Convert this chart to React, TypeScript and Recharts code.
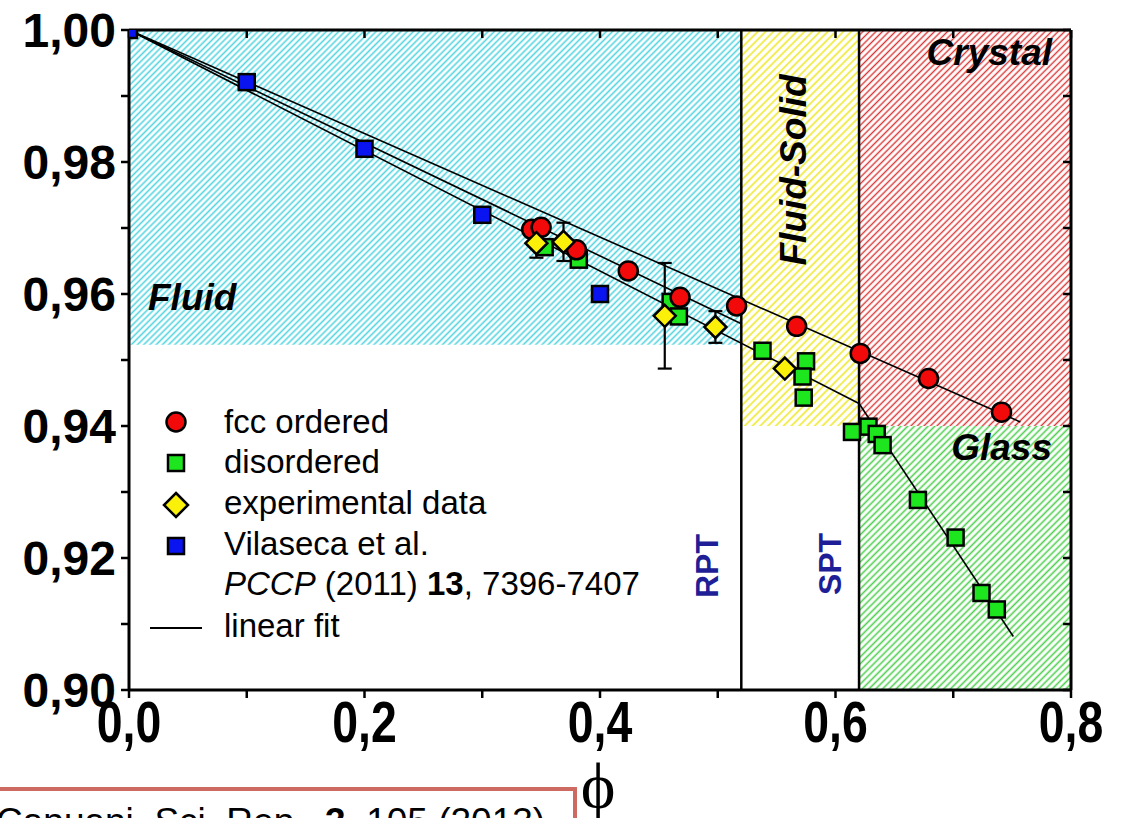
import React from 'react';
import {
  ScatterChart,
  Scatter,
  XAxis,
  YAxis,
  ReferenceArea,
  ReferenceLine,
  ErrorBar,
} from 'recharts';

// fcc ordered packing results
const fccOrdered = [
  { x: 0.342, y: 0.9698 },
  { x: 0.350, y: 0.9701 },
  { x: 0.380, y: 0.9667 },
  { x: 0.424, y: 0.9635 },
  { x: 0.468, y: 0.9595 },
  { x: 0.516, y: 0.9582 },
  { x: 0.567, y: 0.9551 },
  { x: 0.621, y: 0.9510 },
  { x: 0.679, y: 0.9472 },
  { x: 0.741, y: 0.9421 },
];

// disordered packing results
const disordered = [
  { x: 0.353, y: 0.9671 },
  { x: 0.382, y: 0.9652 },
  { x: 0.460, y: 0.9588 },
  { x: 0.467, y: 0.9566 },
  { x: 0.538, y: 0.9514 },
  { x: 0.575, y: 0.9498 },
  { x: 0.572, y: 0.9475 },
  { x: 0.573, y: 0.9443 },
  { x: 0.614, y: 0.9391 },
  { x: 0.628, y: 0.9399 },
  { x: 0.635, y: 0.9388 },
  { x: 0.640, y: 0.9371 },
  { x: 0.670, y: 0.9288 },
  { x: 0.702, y: 0.9231 },
  { x: 0.724, y: 0.9147 },
  { x: 0.737, y: 0.9122 },
];

// experimental data with symmetric error
const experimental = [
  { x: 0.346, y: 0.9677, err: 0.0022 },
  { x: 0.369, y: 0.9679, err: 0.0029 },
  { x: 0.455, y: 0.9567, err: 0.008 },
  { x: 0.498, y: 0.955, err: 0.0024 },
  { x: 0.557, y: 0.9487, err: 0 },
];

// Vilaseca et al., PCCP (2011)
const vilaseca = [
  { x: 0.0, y: 1.0 },
  { x: 0.1, y: 0.9921 },
  { x: 0.2, y: 0.982 },
  { x: 0.3, y: 0.972 },
  { x: 0.4, y: 0.96 },
];

// linear fits (end points)
const fccFit = [{ x: 0, y: 1.0 }, { x: 0.757, y: 0.9406 }];
const expFit = [{ x: 0, y: 1.0 }, { x: 0.52, y: 0.9555 }];
const disorderedFit = [{ x: 0, y: 1.0 }, { x: 0.62, y: 0.9434 }];
const glassFit = [{ x: 0.62, y: 0.9434 }, { x: 0.751, y: 0.9081 }];

// phase boundaries
const rptPhi = 0.52;
const sptPhi = 0.62;
const phases = [
  { name: 'Fluid', x1: 0, x2: 0.52, y1: 0.9523, y2: 1.0, fill: 'url(#hatchCyan)' },
  { name: 'Fluid-Solid', x1: 0.52, x2: 0.62, y1: 0.94, y2: 1.0, fill: 'url(#hatchYellow)' },
  { name: 'Crystal', x1: 0.62, x2: 0.8, y1: 0.94, y2: 1.0, fill: 'url(#hatchRed)' },
  { name: 'Glass', x1: 0.62, x2: 0.8, y1: 0.9, y2: 0.94, fill: 'url(#hatchGreen)' },
];

const xTicks = [0, 0.1, 0.2, 0.3, 0.4, 0.5, 0.6, 0.7, 0.8];
const yTicks = [0.9, 0.91, 0.92, 0.93, 0.94, 0.95, 0.96, 0.97, 0.98, 0.99, 1.0];

const FONT = '"Liberation Sans", Arial, Helvetica, sans-serif';

// bottom labels are tall and condensed, so squeeze them horizontally
const XTick = (props: any) => {
  const { x, payload } = props;
  const v = payload.value as number;
  if (Math.round(v * 10) % 2 !== 0) return <g />;
  return (
    <text
      transform={`translate(${x},742) scale(0.8,1)`}
      textAnchor="middle"
      fontFamily={FONT}
      fontWeight="bold"
      fontSize={58}
      fill="#000"
    >
      {v.toFixed(1).replace('.', ',')}
    </text>
  );
};

const YTick = (props: any) => {
  const { x, y, payload } = props;
  const v = payload.value as number;
  if (Math.round(v * 100) % 2 !== 0) return <g />;
  return (
    <text x={x - 3} y={y + 17} textAnchor="end" fontFamily={FONT} fontWeight="bold" fontSize={48} fill="#000">
      {v.toFixed(2).replace('.', ',')}
    </text>
  );
};

const Empty = () => <g />;

const RedCircle = (p: any) => (
  <circle cx={p.cx} cy={p.cy} r={9.5} fill="#f20a0a" stroke="#000" strokeWidth={2.5} />
);
const GreenSquare = (p: any) => (
  <rect x={p.cx - 8} y={p.cy - 8} width={16} height={16} fill="#1ee61e" stroke="#000" strokeWidth={2.5} />
);
const BlueSquare = (p: any) => (
  <rect x={p.cx - 8} y={p.cy - 8} width={16} height={16} fill="#0a14f0" stroke="#000" strokeWidth={2.5} />
);
const YellowDiamond = (p: any) => (
  <polygon
    points={`${p.cx},${p.cy - 11} ${p.cx + 11},${p.cy} ${p.cx},${p.cy + 11} ${p.cx - 11},${p.cy}`}
    fill="#fbf00a"
    stroke="#000"
    strokeWidth={2.5}
  />
);

const axisLine = { stroke: '#000', strokeWidth: 3 };
const tickLine = { stroke: '#000', strokeWidth: 2.5 };
const fitStyle = { stroke: '#000', strokeWidth: 1.6 };

const hatch = (id: string, color: string, size: number, width: number) => (
  <pattern id={id} patternUnits="userSpaceOnUse" width={size} height={size} patternTransform="rotate(45)">
    <line x1={size / 2} y1={0} x2={size / 2} y2={size} stroke={color} strokeWidth={width} />
  </pattern>
);

const Annotations = () => (
  <svg
    width={1122}
    height={818}
    style={{ position: 'absolute', left: 0, top: 0, pointerEvents: 'none' }}
    fontFamily={FONT}
  >
    {/* phase names */}
    <g fontWeight="bold" fontStyle="italic" fontSize={37} fill="#000">
      <text x={148} y={310}>Fluid</text>
      <text x={1052} y={65} textAnchor="end">Crystal</text>
      <text x={1052} y={460} textAnchor="end">Glass</text>
      <text transform="translate(806,170) rotate(-90)" textAnchor="middle">Fluid-Solid</text>
    </g>
    <g fontWeight="bold" fontSize={32} fill="#1e1e96">
      <text transform="translate(718,566) rotate(-90)" textAnchor="middle">RPT</text>
      <text transform="translate(841,564) rotate(-90)" textAnchor="middle">SPT</text>
    </g>

    {/* legend */}
    <g fontSize={33} fill="#000">
      <circle cx={176} cy={422} r={9.5} fill="#f20a0a" stroke="#000" strokeWidth={2.5} />
      <text x={224} y={433}>fcc ordered</text>
      <rect x={168} y={455} width={16} height={16} fill="#1ee61e" stroke="#000" strokeWidth={2.5} />
      <text x={224} y={473}>disordered</text>
      <polygon points="176,493 188,505 176,517 164,505" fill="#fbf00a" stroke="#000" strokeWidth={2.5} />
      <text x={224} y={514}>experimental data</text>
      <rect x={168} y={538} width={16} height={16} fill="#0a14f0" stroke="#000" strokeWidth={2.5} />
      <text x={224} y={555}>Vilaseca et al.</text>
      <text x={224} y={595}>
        <tspan fontStyle="italic">PCCP</tspan>
        <tspan> (2011) </tspan>
        <tspan fontWeight="bold">13</tspan>
        <tspan>, 7396-7407</tspan>
      </text>
      <line x1={150} y1={628} x2={202} y2={628} stroke="#000" strokeWidth={2} />
      <text x={224} y={637}>linear fit</text>
    </g>

    {/* axis title */}
    <text x={598} y={808} textAnchor="middle" fontFamily='"Liberation Serif", "Times New Roman", serif' fontSize={66} fill="#000">
      ϕ
    </text>

    {/* citation box */}
    <rect x={-20} y={789} width={595} height={80} fill="#fff" stroke="#cd6b63" strokeWidth={4} />
    <text x={-4} y={834} fontSize={37} fill="#000">
      Capuani, Sci. Rep., <tspan fontWeight="bold">3</tspan>, 105 (2013)
    </text>
  </svg>
);

export default function App() {
  return (
    <div style={{ position: 'absolute', left: 0, top: 0, width: 1122, height: 818, background: '#fff', overflow: 'hidden' }}>
      <ScatterChart width={1122} height={818} margin={{ top: 30, right: 51, bottom: 0, left: 0 }}>
        <defs>
          {hatch('hatchCyan', '#52d4e0', 4.4, 1.6)}
          {hatch('hatchYellow', '#f2ec55', 5.5, 2.0)}
          {hatch('hatchRed', '#dc3434', 4.6, 1.4)}
          {hatch('hatchGreen', '#4ecf4e', 4.8, 1.6)}
        </defs>

        {phases.map((p) => (
          <ReferenceArea key={p.name} x1={p.x1} x2={p.x2} y1={p.y1} y2={p.y2} fill={p.fill} fillOpacity={1} stroke="none" />
        ))}

        <ReferenceLine x={rptPhi} stroke="#000" strokeWidth={2.5} />
        <ReferenceLine x={sptPhi} stroke="#000" strokeWidth={2.5} />

        <ReferenceLine segment={fccFit} {...fitStyle} />
        <ReferenceLine segment={expFit} {...fitStyle} />
        <ReferenceLine segment={disorderedFit} {...fitStyle} />
        <ReferenceLine segment={glassFit} {...fitStyle} />

        <Scatter name="disordered" data={disordered} shape={GreenSquare} isAnimationActive={false} />
        <Scatter name="fcc ordered" data={fccOrdered} shape={RedCircle} isAnimationActive={false} />
        <Scatter name="experimental data" data={experimental} shape={YellowDiamond} isAnimationActive={false}>
          <ErrorBar dataKey="err" direction="y" width={7} stroke="#000" strokeWidth={2.2} />
        </Scatter>
        <Scatter name="Vilaseca et al." data={vilaseca} shape={BlueSquare} isAnimationActive={false} />

        <XAxis
          type="number"
          dataKey="x"
          domain={[0, 0.8]}
          ticks={xTicks}
          interval={0}
          allowDataOverflow
          height={128}
          axisLine={axisLine}
          tickLine={tickLine}
          tickSize={8}
          tick={<XTick />}
        />
        <XAxis
          xAxisId="top"
          orientation="top"
          type="number"
          dataKey="x"
          domain={[0, 0.8]}
          ticks={xTicks}
          interval={0}
          allowDataOverflow
          mirror
          axisLine={axisLine}
          tickLine={tickLine}
          tickSize={8}
          tick={<Empty />}
        />
        <YAxis
          type="number"
          dataKey="y"
          domain={[0.9, 1.0]}
          ticks={yTicks}
          interval={0}
          allowDataOverflow
          width={129}
          axisLine={axisLine}
          tickLine={tickLine}
          tickSize={8}
          tick={<YTick />}
        />
        <YAxis
          yAxisId="right"
          orientation="right"
          type="number"
          dataKey="y"
          domain={[0.9, 1.0]}
          ticks={yTicks}
          interval={0}
          allowDataOverflow
          mirror
          axisLine={axisLine}
          tickLine={tickLine}
          tickSize={8}
          tick={<Empty />}
        />
      </ScatterChart>
      <Annotations />
    </div>
  );
}
